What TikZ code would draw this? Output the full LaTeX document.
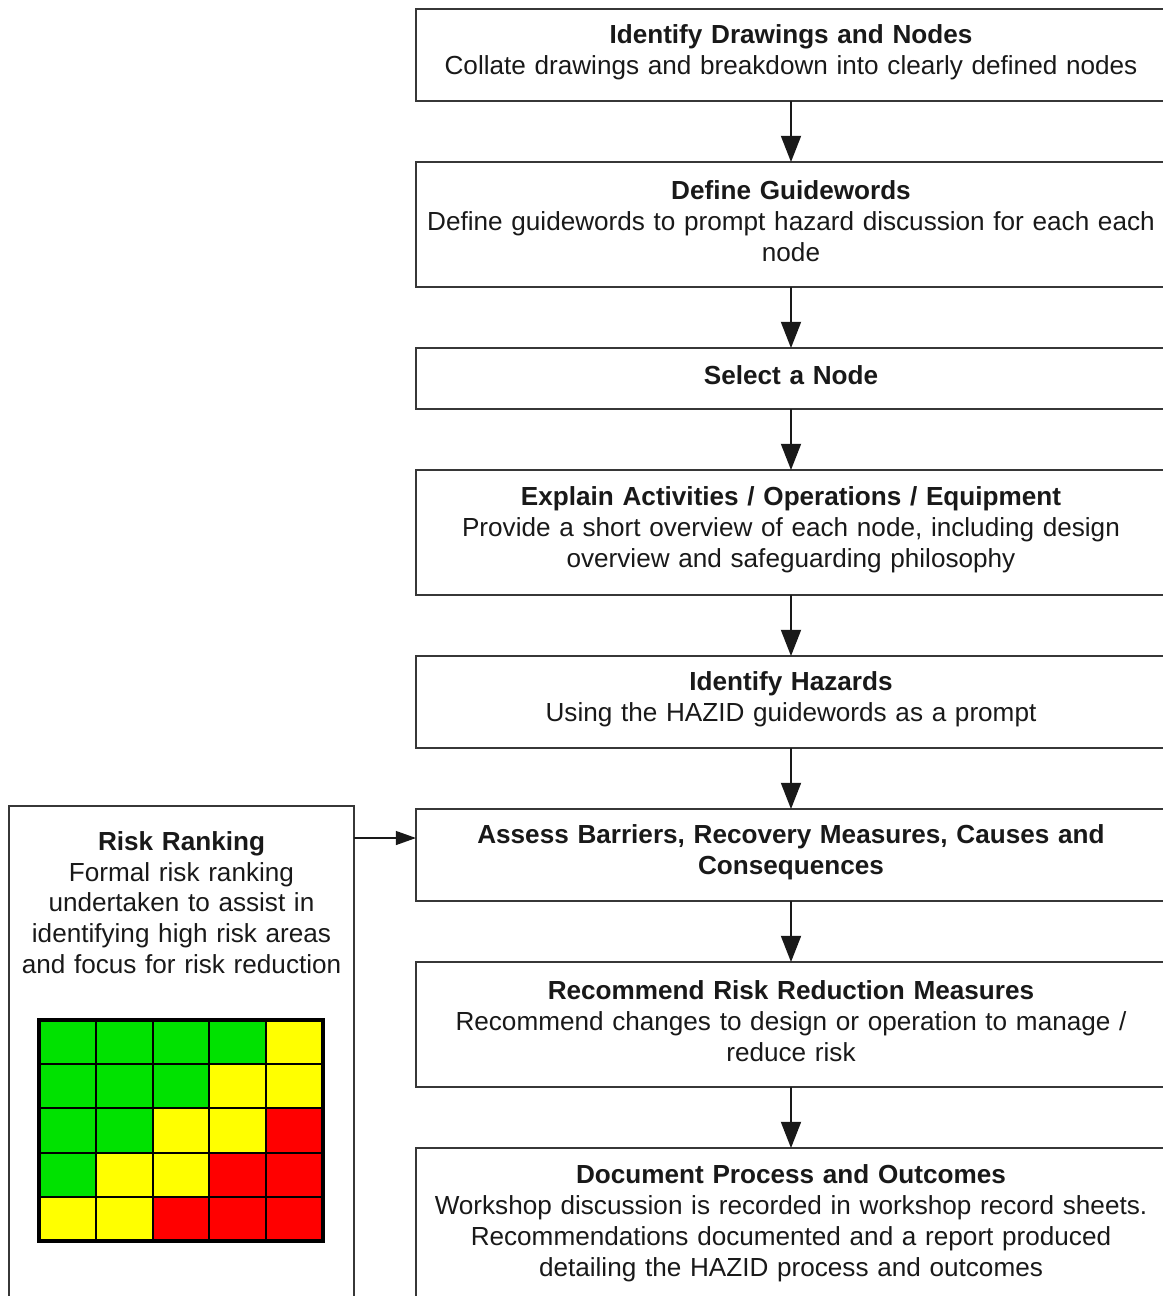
\documentclass[tikz,border=0pt]{standalone}
\usepackage{fontspec}
\setmainfont{Liberation Sans}
\definecolor{inkgray}{RGB}{25,25,25}
\definecolor{framegray}{RGB}{55,55,55}
\definecolor{riskgreen}{RGB}{0,226,0}
\definecolor{riskyellow}{RGB}{255,255,0}
\definecolor{riskred}{RGB}{255,0,0}
\usetikzlibrary{calc, positioning, arrows.meta}
\newcommand\stagegap{\par\vspace{2.4pt}}

\begin{document}
\begin{tikzpicture}[
    x=0.4pt, y=-0.4pt,
    stage/.style={draw=framegray, line width=1pt, fill=white, text=inkgray,
      text width=294pt, inner xsep=3pt, inner ysep=0pt, outer sep=0pt,
      align=center, minimum height={12.4pt*#1+12pt+0.8pt*(#1>2)},
      font=\fontsize{10.45pt}{12.4pt}\selectfont,
      execute at end node=\stagegap},
    stage/.default=1,
    panel/.style={draw=framegray, line width=1pt, minimum width=138pt,
      minimum height=200pt, outer sep=0pt},
    paneltext/.style={text=inkgray, text width=136pt, align=center,
      inner sep=0pt, font=\fontsize{10.45pt}{12.3pt}\selectfont},
    flow/.style={draw=inkgray, line width=0.8pt,
      -{Triangle[length=10.5pt, width=8pt]}},
    link/.style={draw=inkgray, line width=0.7pt,
      -{Triangle[length=8pt, width=5.5pt]}},
    cell/.style={draw=black, line width=0.8pt},
    node distance=24.4pt,
  ]
    \useasboundingbox (0,0) rectangle (1163,1296);
    \clip (0,0) rectangle (1163,1296);

    % HAZID steps
    \node[stage=2, anchor=north] (st1) at (791,9)
      {\textbf{Identify Drawings and Nodes}\\
       Collate drawings and breakdown into clearly defined nodes};
    \node[stage=3, below=of st1] (st2)
      {\textbf{Define Guidewords}\\
       Define guidewords to prompt hazard discussion for each each\\ node};
    \node[stage=1, below=of st2] (st3) {\textbf{Select a Node}};
    \node[stage=3, below=of st3] (st4)
      {\textbf{Explain Activities / Operations / Equipment}\\
       Provide a short overview of each node, including design\\
       overview and safeguarding philosophy};
    \node[stage=2, below=of st4] (st5)
      {\textbf{Identify Hazards}\\ Using the HAZID guidewords as a prompt};
    \node[stage=2, below=of st5] (st6)
      {\textbf{Assess Barriers, Recovery Measures, Causes and}\\
       \textbf{Consequences}};
    \node[stage=3, below=of st6] (st7)
      {\textbf{Recommend Risk Reduction Measures}\\
       Recommend changes to design or operation to manage /\\ reduce risk};
    \node[stage=4, below=of st7] (st8)
      {\textbf{Document Process and Outcomes}\\
       Workshop discussion is recorded in workshop record sheets.\\
       Recommendations documented and a report produced\\
       detailing the HAZID process and outcomes};

    \foreach \a/\b in {st1/st2, st2/st3, st3/st4, st4/st5, st5/st6, st6/st7, st7/st8}
      \draw[flow] (\a.south) -- (\b.north);

    % risk ranking panel
    \node[panel, anchor=north] (rank) at (181.5,806) {};
    \node[paneltext, below=10pt of rank.north] (ranktxt)
      {\textbf{Risk Ranking}\\ Formal risk ranking\\ undertaken to assist in\\
       identifying high risk areas\\ and focus for risk reduction};
    \coordinate (rankout) at ($(rank.north east)+(0,32)$);
    \draw[link] (rankout) -- (rankout -| st6.west);

    % risk matrix
    \foreach \r in {0,...,4}
      \foreach \c in {0,...,4} {
        \pgfmathtruncatemacro\k{\r+\c}
        \ifnum\k<4 \def\shade{riskgreen}\else
          \ifnum\k<6 \def\shade{riskyellow}\else \def\shade{riskred}\fi\fi
        \draw[cell, fill=\shade] (39+56.8*\c,1020+44.2*\r) rectangle ++(56.8,44.2);
      }
    \draw[black, line width=1.4pt] (39,1020) rectangle (323,1241);
\end{tikzpicture}
\end{document}
